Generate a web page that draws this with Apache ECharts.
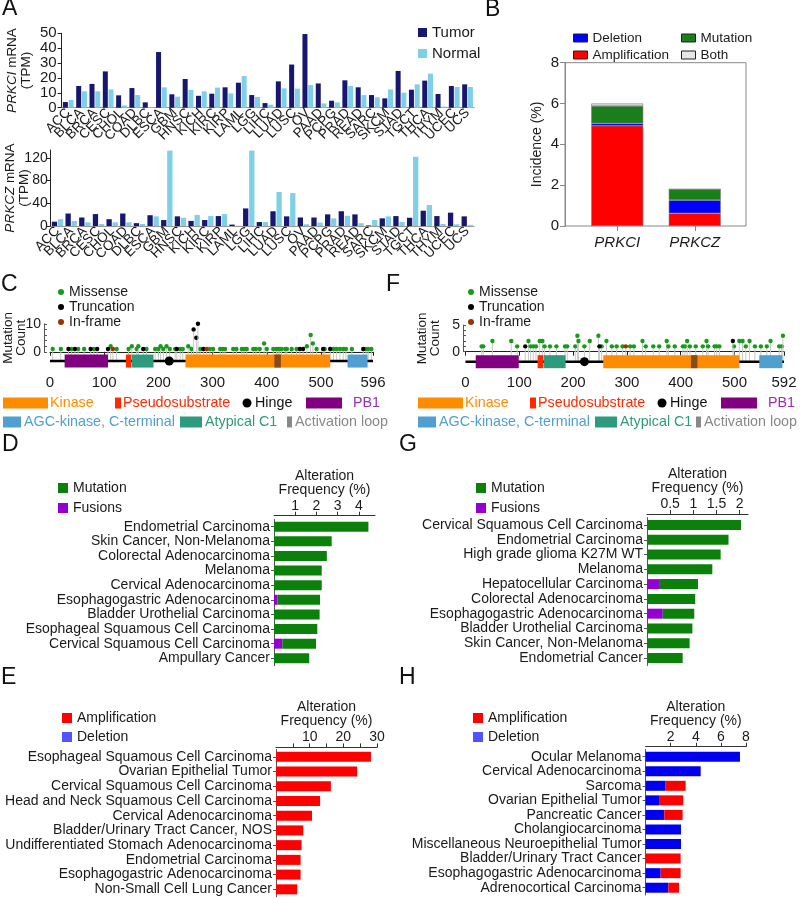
<!DOCTYPE html>
<html>
<head>
<meta charset="utf-8">
<script src="https://cdn.jsdelivr.net/npm/echarts@6/dist/echarts.min.js"></script>
<style>
html,body{margin:0;padding:0;background:#fff;}
#main{width:800px;height:899px;}
</style>
</head>
<body>
<div id="main"></div>
<script>
// ---- panel A: TCGA expression ----
var tcgaTypes = ['ACC','BLCA','BRCA','CESC','CHOL','COAD','DLBC','ESCA','GBM','HNSC','KICH','KIRC','KIRP','LAML','LGG','LIHC','LUAD','LUSC','OV','PAAD','PCPG','PRAD','READ','SARC','SKCM','STAD','TGCT','THCA','THYM','UCEC','UCS'];
var prkciTumor  = [3.8,14.6,16,24.4,8.3,13.2,3.6,37.4,9,19.3,8,9.4,13.7,16.8,8.5,3.1,17.7,29,49.5,16.3,4.7,18.4,13.7,8.5,6.3,24.7,12.1,18.2,9.2,14.6,15.7];
var prkciNormal = [5.2,11,11,12.3,1.6,8.5,0.4,13.7,7.4,12,11,13.5,9.6,21.3,7.2,2,13,12.8,15.2,2.9,3.6,14.6,8.5,7,12.3,10.1,15.7,22.9,0.7,13.9,13.9];
var prkczTumor  = [7.6,22,15,21,12,22,5,19,10.5,17,9,10.5,17.5,2.5,31,7,26,17,15,15,20.5,26,20.5,1,13.5,17.5,14.5,27,17.5,23.5,17];
var prkczNormal = [12,9,6.5,3.5,6.5,6.5,3.5,17,133,14.5,19.5,17.5,21,0.5,133,7,60,58,3,6,13.5,18,5,10.5,17,7,122,37,3.5,3,2];
var prkczExprTicks = [0,40,80,120];

// ---- panel B: incidence ----
var genes = ['PRKCI','PRKCZ'];
var incAmp  = [4.91,0.62];
var incDel  = [0.12,0.65];
var incMut  = [0.85,0.53];
var incBoth = [0.12,0];

// ---- panels C / F: lollipops ----
var prkciLength = 596, prkczLength = 592;
var prkciPosTicks = [0,100,200,300,400,500,596];
var prkczPosTicks = [0,100,200,300,400,500,592];
var prkciMissense = [[5,1],[20,1],[40,1],[52,1],[63,1],[81,1],[112,2],[123,1],[145,1],[151,2],[160,1],[163,2],[178,1],[194,1],[200,1],[204,2],[209,1],[215,2],[221,1],[231,1],[240,1],[245,1],[255,2],[261,1],[277,1],[295,1],[301,1],[314,1],[319,1],[323,1],[338,1],[344,1],[354,1],[358,1],[363,1],[375,1],[380,1],[387,1],[395,3],[400,1],[412,1],[418,1],[421,1],[424,1],[427,1],[434,1],[437,1],[446,1],[455,1],[474,2],[481,6],[485,3],[492,1],[507,1],[523,1],[529,1],[535,1],[541,1],[546,1],[557,1],[583,1],[587,1],[593,1]];
var prkciTruncating = [[34,1],[46,1],[75,1],[87,1],[107,1],[172,1],[234,1],[265,8],[270,5],[273,10],[283,1],[461,1],[467,1],[504,1],[517,1],[578,1]];
var prkciInframe = [[116,1],[289,1]];
var prkczMissense = [[30,1],[33,1],[50,2],[85,2],[96,1],[117,2],[121,1],[126,1],[131,1],[138,2],[143,2],[147,1],[157,1],[169,1],[185,1],[189,1],[204,1],[208,3],[210,2],[221,1],[231,2],[247,3],[253,1],[262,2],[272,1],[281,1],[292,1],[306,1],[313,1],[329,2],[335,1],[349,1],[360,1],[374,2],[377,1],[389,1],[404,1],[408,1],[412,2],[417,1],[428,1],[441,1],[448,2],[451,1],[463,1],[467,1],[472,1],[499,1],[509,2],[515,2],[521,1],[528,2],[538,1],[549,1],[560,1],[567,2],[583,1],[588,1],[590,3]];
var prkczTruncating = [[111,1],[249,1],[497,2]];
var prkczInframe = [[298,1]];
var domainNames = ['PB1','Pseudosubstrate','Atypical C1','Hinge','Kinase','Activation loop','AGC-kinase, C-terminal'];
var prkciDomainStart = [27,140,151,220,250,414,549];
var prkciDomainEnd   = [107,150,191,220,517,426,586];
var prkczDomainStart = [19,134,146,221,256,419,546];
var prkczDomainEnd   = [99,145,186,221,509,431,589];

// ---- panels D / G: mutations ----
var dCancers = ['Endometrial Carcinoma','Skin Cancer, Non-Melanoma','Colorectal Adenocarcinoma','Melanoma','Cervical Adenocarcinoma','Esophagogastric Adenocarcinoma','Bladder Urothelial Carcinoma','Esophageal Squamous Cell Carcinoma','Cervical Squamous Cell Carcinoma','Ampullary Cancer'];
var dFusion   = [0,0,0,0,0,0.17,0,0,0.39,0];
var dMutation = [4.45,2.72,2.49,2.25,2.25,2.0,2.15,2.04,1.59,1.66];
var gCancers = ['Cervical Squamous Cell Carcinoma','Endometrial Carcinoma','High grade glioma K27M WT','Melanoma','Hepatocellular Carcinoma','Colorectal Adenocarcinoma','Esophagogastric Adenocarcinoma','Bladder Urothelial Carcinoma','Skin Cancer, Non-Melanoma','Endometrial Cancer'];
var gFusion   = [0,0,0,0,0.26,0,0.34,0,0,0];
var gMutation = [2.03,1.76,1.59,1.41,0.84,1.04,0.68,0.98,0.92,0.77];

// ---- panels E / H: copy number ----
var eCancers = ['Esophageal Squamous Cell Carcinoma','Ovarian Epithelial Tumor','Cervical Squamous Cell Carcinoma','Head and Neck Squamous Cell Carcinoma','Cervical Adenocarcinoma','Bladder/Urinary Tract Cancer, NOS','Undifferentiated Stomach Adenocarcinoma','Endometrial Carcinoma','Esophagogastric Adenocarcinoma','Non-Small Cell Lung Cancer'];
var eAmp = [28.2,24.1,16.3,13.1,10.7,8.1,7.6,7.3,7.3,6.3];
var hCancers = ['Ocular Melanoma','Cervical Adenocarcinoma','Sarcoma','Ovarian Epithelial Tumor','Pancreatic Cancer','Cholangiocarcinoma','Miscellaneous Neuroepithelial Tumor','Bladder/Urinary Tract Cancer','Esophagogastric Adenocarcinoma','Adrenocortical Carcinoma'];
var hDel = [7.52,4.39,1.6,1.07,1.49,2.82,2.82,0,1.2,1.81];
var hAmp = [0,0,1.59,1.93,1.46,0,0,2.79,1.59,0.85];

var FONT = '"Liberation Sans", Arial, Helvetica, sans-serif';
var TXT = '#1a1a1a';
var TUMOR = '#17176f', NORMAL = '#7fd0e6';
var RED = '#ff0000', BLUE = '#0000f0', GREEN = '#0b800b', PURPLE = '#9400d3';
var domainFill = {'PB1':'#800080','Pseudosubstrate':'#ff2a00','Atypical C1':'#2e9a7e','Hinge':'#000','Kinase':'#ff8c00','Activation loop':'#8a4a14','AGC-kinase, C-terminal':'#4f9fd0'};

// backbone level in each lollipop panel (y units)
var prkciBackbone = -3.3, prkczBackbone = -1.87;

function lollipop(color, backbone) {
    return function (params, api) {
        var top = api.coord([api.value(0), api.value(1)]);
        var base = api.coord([api.value(0), backbone]);
        return {type:'group', children:[
            {type:'line', shape:{x1:top[0],y1:top[1],x2:base[0],y2:base[1]}, style:{stroke:'#c8c8c8',lineWidth:1}},
            {type:'circle', shape:{cx:top[0],cy:top[1],r:2.2}, style:{fill:color}}
        ]};
    };
}
function domainItem(backbone) {
    return function (params, api) {
        var name = domainNames[api.value(2)];
        var a = api.coord([api.value(0), backbone]);
        var b = api.coord([api.value(1), backbone]);
        if (name === 'Hinge') {
            return {type:'circle', shape:{cx:a[0],cy:a[1],r:4.5}, style:{fill:'#000'}};
        }
        return {type:'rect', shape:{x:a[0],y:a[1]-6.5,width:b[0]-a[0],height:13}, style:{fill:domainFill[name]}};
    };
}
function lolliSeries(name, data, color, xi, backbone) {
    return {name:name, type:'custom', xAxisIndex:xi, yAxisIndex:xi, data:data,
        itemStyle:{color:color}, renderItem:lollipop(color, backbone), silent:true};
}
function domainSeries(starts, ends, xi, backbone) {
    return {type:'custom', xAxisIndex:xi, yAxisIndex:xi,
        data: domainNames.map(function (n, i) { return [starts[i], ends[i], i]; }),
        encode:{x:[0,1]}, renderItem:domainItem(backbone), silent:true, z:3};
}
function backboneSeries(len, xi, backbone) {
    return {type:'line', xAxisIndex:xi, yAxisIndex:xi, data:[[0,backbone],[len,backbone]],
        symbol:'none', lineStyle:{color:'#000',width:2.5}, silent:true, z:2};
}
function freqX(gi, max, offset, ticks, labels) {
    return {type:'value', gridIndex:gi, position:'top', offset:offset, min:0, max:max,
        name:'Alteration\nFrequency (%)', nameLocation:'middle', nameGap:19, nameMoveOverlap:false,
        nameTextStyle:{fontSize:14, color:TXT, lineHeight:14},
        axisLine:{show:true, lineStyle:{color:'#333'}},
        axisTick:{show:true, length:4, customValues:ticks, lineStyle:{color:'#333'}},
        axisLabel:{customValues:labels, fontSize:14, color:TXT, margin:3, hideOverlap:false},
        splitLine:{show:false}};
}
function cancerY(gi, data) {
    return {type:'category', gridIndex:gi, data:data, inverse:true,
        axisLine:{show:true, lineStyle:{color:'#555'}},
        axisTick:{show:true, alignWithLabel:true, length:3, lineStyle:{color:'#555'}},
        axisLabel:{fontSize:14, color:TXT, margin:4, interval:0}};
}
function tcgaX(gi) {
    return {type:'category', gridIndex:gi, data:tcgaTypes,
        axisLine:{lineStyle:{color:'#999'}}, axisTick:{show:false},
        axisLabel:{interval:0, rotate:45, fontSize:13.5, color:TXT, margin:3, hideOverlap:false}};
}
function hbar(name, data, xi, color, stack) {
    return {name:name, type:'bar', xAxisIndex:xi, yAxisIndex:xi, data:data, stack:stack,
        barWidth:10, itemStyle:{color:color}, silent:true};
}
function grid(left, top, width, height, extra) {
    var g = {left:left, top:top, width:width, height:height, containLabel:false, outerBoundsMode:'none'};
    for (var k in (extra || {})) g[k] = extra[k];
    return g;
}

function domainLegend(x0, actX) {
    var r1 = 403, r2 = 422, h = 11, els = [];
    function box(x, w, y, c) { els.push({type:'rect', shape:{x:x0+x,y:y-h/2,width:w,height:h}, style:{fill:c}}); }
    function label(x, y, t, c) { els.push({type:'text', x:x0+x, y:y, style:{text:t, fill:c, fontSize:14.3, fontFamily:FONT, verticalAlign:'middle'}}); }
    box(3,45,r1,domainFill['Kinase']); label(50,r1,'Kinase',domainFill['Kinase']);
    box(115,6,r1,domainFill['Pseudosubstrate']); label(123,r1,'Pseudosubstrate',domainFill['Pseudosubstrate']);
    els.push({type:'circle', shape:{cx:x0+247,cy:r1,r:4.5}, style:{fill:'#000'}}); label(255,r1,'Hinge','#111');
    box(306,36,r1,domainFill['PB1']); label(353,r1,'PB1','#9b2fb0');
    box(3,18,r2,domainFill['AGC-kinase, C-terminal']); label(24,r2,'AGC-kinase, C-terminal',domainFill['AGC-kinase, C-terminal']);
    box(180,22,r2,domainFill['Atypical C1']); label(205,r2,'Atypical C1',domainFill['Atypical C1']);
    box(actX,5,r2,'#888'); label(actX+8,r2,'Activation loop','#888');
    return els;
}
function letter(t, x, y) {
    return {type:'text', x:x, y:y, style:{text:t, fontSize:23, fill:'#111', fontFamily:FONT}};
}

var chart = echarts.init(document.getElementById('main'));
var option = {
    animation:false,
    textStyle:{fontFamily:FONT},
    grid:[
        grid(61.6, 33.3, 412.6, 74.4),       // A top
        grid(50.7, 150, 423.4, 76),          // A bottom
        grid(565, 62.7, 181, 163.3, {show:true, borderColor:'#888', borderWidth:1}), // B frame
        grid(578.5, 62.7, 155, 163.3),       // B bars
        grid(50, 323.8, 323, 47.9),          // C
        grid(44, 323.8, 1, 28),              // C count axis
        grid(465.5, 325, 318.5, 46.7),       // F
        grid(463, 325, 1, 26.7),             // F count axis
        grid(274, 519.4, 101, 146.2),        // D
        grid(647, 517.6, 101, 147.8),        // G
        grid(276, 749.4, 101, 147.3),        // E
        grid(645.6, 749.4, 100.4, 145.6)     // H
    ],
    xAxis:[
        tcgaX(0),
        tcgaX(1),
        {type:'value', gridIndex:2, show:false, min:0, max:1},
        {type:'category', gridIndex:3, data:genes, axisLine:{show:false},
            axisTick:{show:true, alignWithLabel:true, length:5, lineStyle:{color:'#888'}},
            axisLabel:{fontSize:15, fontStyle:'italic', color:TXT, margin:9}},
        {type:'value', gridIndex:4, min:0, max:prkciLength, axisLine:{lineStyle:{color:'#222'}},
            axisTick:{length:4, customValues:prkciPosTicks, lineStyle:{color:'#222'}},
            axisLabel:{customValues:prkciPosTicks, fontSize:15, color:TXT, margin:4, hideOverlap:false}, splitLine:{show:false}},
        {type:'value', gridIndex:5, show:false},
        {type:'value', gridIndex:6, min:0, max:prkczLength, axisLine:{lineStyle:{color:'#222'}},
            axisTick:{length:4, customValues:prkczPosTicks, lineStyle:{color:'#222'}},
            axisLabel:{customValues:prkczPosTicks, fontSize:15, color:TXT, margin:4, hideOverlap:false}, splitLine:{show:false}},
        {type:'value', gridIndex:7, show:false},
        freqX(8, 4.76, 3.7, [1,2,3,4], [1,2,3,4]),
        freqX(9, 2.18, 3.6, [0.5,1,1.5,2], [0.5,1,1.5,2]),
        freqX(10, 30, 2, [5,10,15,20,25,30], [10,20,30]),
        freqX(11, 8, 2.7, [2,4,6,8], [2,4,6,8])
    ],
    yAxis:[
        {type:'value', gridIndex:0, min:0, max:50, interval:10,
            name:'{i|PRKCI} mRNA\n(TPM)', nameLocation:'middle', nameGap:28, nameMoveOverlap:false,
            nameTextStyle:{fontSize:13.5, color:TXT, lineHeight:14, rich:{i:{fontStyle:'italic', fontSize:13.5, color:TXT}}},
            axisLine:{show:true, lineStyle:{color:'#222'}}, axisTick:{show:true, length:4, lineStyle:{color:'#222'}},
            axisLabel:{fontSize:15, color:TXT, margin:5, showMinLabel:true, showMaxLabel:true, hideOverlap:false}, splitLine:{show:false}},
        {type:'value', gridIndex:1, min:0, max:134,
            name:'{i|PRKCZ} mRNA\n(TPM)', nameLocation:'middle', nameGap:19, nameMoveOverlap:false,
            nameTextStyle:{fontSize:13.5, color:TXT, lineHeight:14, rich:{i:{fontStyle:'italic', fontSize:13.5, color:TXT}}},
            axisLine:{show:true, lineStyle:{color:'#222'}},
            axisTick:{show:true, length:4, customValues:prkczExprTicks, lineStyle:{color:'#222'}},
            axisLabel:{customValues:prkczExprTicks, fontSize:14, color:TXT, margin:3, hideOverlap:false}, splitLine:{show:false}},
        {type:'value', gridIndex:2, min:0, max:8, interval:2,
            name:'Incidence (%)', nameLocation:'middle', nameGap:21, nameMoveOverlap:false, nameTextStyle:{fontSize:14, color:TXT},
            axisLine:{show:true, lineStyle:{color:'#888'}}, axisTick:{show:true, length:5, lineStyle:{color:'#888'}},
            axisLabel:{fontSize:15, color:TXT, margin:6, showMinLabel:true, showMaxLabel:true, hideOverlap:false}, splitLine:{show:false}},
        {type:'value', gridIndex:3, show:false, min:0, max:8},
        {type:'value', gridIndex:4, show:false, min:-7.1, max:10},
        {type:'value', gridIndex:5, min:0, max:10,
            name:'Mutation\nCount', nameLocation:'middle', nameGap:16, nameMoveOverlap:false, nameTextStyle:{fontSize:13.5, color:TXT, lineHeight:13},
            axisLine:{show:true, lineStyle:{color:'#555'}},
            axisTick:{show:true, inside:true, length:3, customValues:[0,2,4,6,8,10], lineStyle:{color:'#555'}},
            axisLabel:{customValues:[0,10], fontSize:14, color:TXT, margin:3, hideOverlap:false}, splitLine:{show:false}},
        {type:'value', gridIndex:6, show:false, min:-3.745, max:5},
        {type:'value', gridIndex:7, min:0, max:5,
            name:'Mutation\nCount', nameLocation:'middle', nameGap:21, nameMoveOverlap:false, nameTextStyle:{fontSize:13.5, color:TXT, lineHeight:13},
            axisLine:{show:true, lineStyle:{color:'#555'}},
            axisTick:{show:true, inside:true, length:3, customValues:[0,1,2,3,4,5], lineStyle:{color:'#555'}},
            axisLabel:{customValues:[0,5], fontSize:14, color:TXT, margin:3, hideOverlap:false}, splitLine:{show:false}},
        cancerY(8, dCancers),
        cancerY(9, gCancers),
        cancerY(10, eCancers),
        cancerY(11, hCancers)
    ],
    legend:[
        {data:['Tumor','Normal'], left:413, top:20, orient:'vertical', icon:'rect', itemWidth:9, itemHeight:9,
            itemGap:6, selectedMode:false, textStyle:{fontSize:15, color:TXT}},
        {data:['Deletion','Amplification'], left:568, top:26, orient:'vertical', icon:'rect', itemWidth:14, itemHeight:8,
            itemGap:3, selectedMode:false, itemStyle:{borderColor:'#222', borderWidth:1}, textStyle:{fontSize:13.5, color:TXT}},
        {data:['Mutation','Both'], left:676, top:26, orient:'vertical', icon:'rect', itemWidth:14, itemHeight:8,
            itemGap:3, selectedMode:false, itemStyle:{borderColor:'#222', borderWidth:1}, textStyle:{fontSize:13.5, color:TXT}},
        {data:['Missense','Truncation','In-frame'], left:53, top:280, orient:'vertical', icon:'circle', itemWidth:6, itemHeight:6,
            itemGap:1, selectedMode:false, textStyle:{fontSize:14, color:TXT}},
        {data:['Missense','Truncation','In-frame'], left:463, top:280, orient:'vertical', icon:'circle', itemWidth:6, itemHeight:6,
            itemGap:1, selectedMode:false, textStyle:{fontSize:14, color:TXT}},
        {data:[{name:'Mutation', itemStyle:{color:GREEN}}, {name:'Fusions', itemStyle:{color:PURPLE}}], left:53, top:476,
            orient:'vertical', icon:'rect', itemWidth:10, itemHeight:10, itemGap:6, selectedMode:false,
            itemStyle:{borderWidth:0}, textStyle:{fontSize:14, color:TXT}},
        {data:[{name:'Mutation', itemStyle:{color:GREEN}}, {name:'Fusions', itemStyle:{color:PURPLE}}], left:471, top:476,
            orient:'vertical', icon:'rect', itemWidth:10, itemHeight:10, itemGap:6, selectedMode:false,
            itemStyle:{borderWidth:0}, textStyle:{fontSize:14, color:TXT}},
        {data:[{name:'Amplification', itemStyle:{color:RED}}, {name:'Deletion', itemStyle:{color:'#5252ff'}}], left:57, top:706,
            orient:'vertical', icon:'rect', itemWidth:10, itemHeight:10, itemGap:5, selectedMode:false,
            itemStyle:{borderWidth:0}, textStyle:{fontSize:14, color:TXT}},
        {data:[{name:'Amplification', itemStyle:{color:RED}}, {name:'Deletion', itemStyle:{color:'#5252ff'}}], left:468, top:706,
            orient:'vertical', icon:'rect', itemWidth:10, itemHeight:10, itemGap:5, selectedMode:false,
            itemStyle:{borderWidth:0}, textStyle:{fontSize:14, color:TXT}}
    ],
    series:[
        // A
        {name:'Tumor', type:'bar', xAxisIndex:0, yAxisIndex:0, data:prkciTumor, barWidth:5, barGap:'15%', itemStyle:{color:TUMOR}},
        {name:'Normal', type:'bar', xAxisIndex:0, yAxisIndex:0, data:prkciNormal, barWidth:5, barGap:'15%', itemStyle:{color:NORMAL}},
        {name:'Tumor', type:'bar', xAxisIndex:1, yAxisIndex:1, data:prkczTumor, barWidth:5.3, barGap:'15%', itemStyle:{color:TUMOR}},
        {name:'Normal', type:'bar', xAxisIndex:1, yAxisIndex:1, data:prkczNormal, barWidth:5.3, barGap:'15%', itemStyle:{color:NORMAL}},
        // B
        {name:'Amplification', type:'bar', stack:'b', xAxisIndex:3, yAxisIndex:3, data:incAmp, barWidth:52,
            itemStyle:{color:RED, borderColor:'#777', borderWidth:0.6}},
        {name:'Deletion', type:'bar', stack:'b', xAxisIndex:3, yAxisIndex:3, data:incDel, barWidth:52,
            itemStyle:{color:'#0000ff', borderColor:'#777', borderWidth:0.6}},
        {name:'Mutation', type:'bar', stack:'b', xAxisIndex:3, yAxisIndex:3, data:incMut, barWidth:52,
            itemStyle:{color:'#1a7f1a', borderColor:'#777', borderWidth:0.6}},
        {name:'Both', type:'bar', stack:'b', xAxisIndex:3, yAxisIndex:3, data:incBoth, barWidth:52,
            itemStyle:{color:'#e6e6e6', borderColor:'#777', borderWidth:0.6}},
        // C
        lolliSeries('Missense', prkciMissense, '#1a9a1a', 4, prkciBackbone),
        lolliSeries('Truncation', prkciTruncating, '#000000', 4, prkciBackbone),
        lolliSeries('In-frame', prkciInframe, '#993300', 4, prkciBackbone),
        backboneSeries(prkciLength, 4, prkciBackbone),
        domainSeries(prkciDomainStart, prkciDomainEnd, 4, prkciBackbone),
        // F
        lolliSeries('Missense', prkczMissense, '#1a9a1a', 6, prkczBackbone),
        lolliSeries('Truncation', prkczTruncating, '#000000', 6, prkczBackbone),
        lolliSeries('In-frame', prkczInframe, '#993300', 6, prkczBackbone),
        backboneSeries(prkczLength, 6, prkczBackbone),
        domainSeries(prkczDomainStart, prkczDomainEnd, 6, prkczBackbone),
        // D, G
        hbar('Fusions', dFusion, 8, PURPLE, 'd'),
        hbar('Mutation', dMutation, 8, GREEN, 'd'),
        hbar('Fusions', gFusion, 9, PURPLE, 'g'),
        hbar('Mutation', gMutation, 9, GREEN, 'g'),
        // E, H
        hbar('Amplification', eAmp, 10, RED, 'e'),
        hbar('Deletion', hDel, 11, BLUE, 'h'),
        hbar('Amplification', hAmp, 11, RED, 'h')
    ],
    graphic:[
        letter('A', 2, -3), letter('B', 485, -2),
        letter('C', 1, 273), letter('F', 386, 273),
        letter('D', 2, 433), letter('G', 399, 433),
        letter('E', 1, 666), letter('H', 399, 666)
    ].concat(domainLegend(0, 287), domainLegend(415, 281))
};
chart.setOption(option);
</script>
</body>
</html>
